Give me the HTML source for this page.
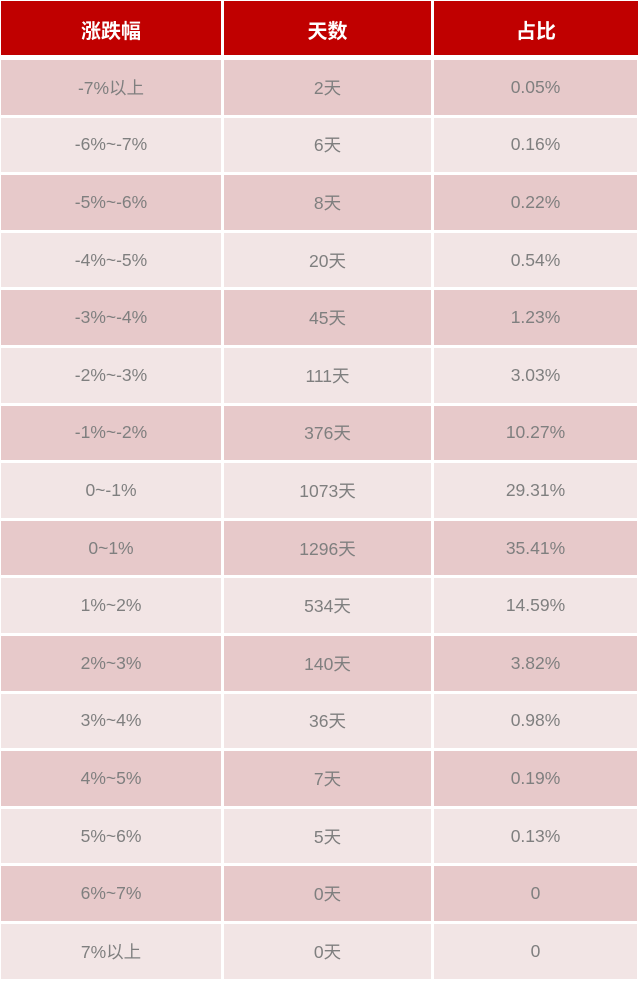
<!DOCTYPE html>
<html>
<head>
<meta charset="utf-8">
<style>
html,body{margin:0;padding:0;background:#fff;}
body{width:640px;height:982px;position:relative;overflow:hidden;font-family:"Liberation Sans","Noto Sans CJK SC",sans-serif;}
.c{position:absolute;display:flex;align-items:center;justify-content:center;box-sizing:border-box;}
.h{background:#c00000;color:#fff;font-weight:bold;font-size:20px;top:1px;height:54px;padding-top:3px;}
.d{background:#e7c9ca;}
.l{background:#f2e5e5;}
.t{color:#7f7f7f;font-size:17.5px;height:54.5px;}
.a{left:1px;width:220px;}
.b{left:224px;width:207px;}
.e{left:434px;width:203px;}
</style>
</head>
<body>
<div class="c h a">涨跌幅</div>
<div class="c h b">天数</div>
<div class="c h" style="left:434px;width:204px;">占比</div>

<div class="c t d a" style="top:60px">-7%以上</div><div class="c t d b" style="top:60px">2天</div><div class="c t d e" style="top:60px">0.05%</div>
<div class="c t l a" style="top:117.6px">-6%~-7%</div><div class="c t l b" style="top:117.6px">6天</div><div class="c t l e" style="top:117.6px">0.16%</div>
<div class="c t d a" style="top:175.2px">-5%~-6%</div><div class="c t d b" style="top:175.2px">8天</div><div class="c t d e" style="top:175.2px">0.22%</div>
<div class="c t l a" style="top:232.8px">-4%~-5%</div><div class="c t l b" style="top:232.8px">20天</div><div class="c t l e" style="top:232.8px">0.54%</div>
<div class="c t d a" style="top:290.4px">-3%~-4%</div><div class="c t d b" style="top:290.4px">45天</div><div class="c t d e" style="top:290.4px">1.23%</div>
<div class="c t l a" style="top:348px">-2%~-3%</div><div class="c t l b" style="top:348px">111天</div><div class="c t l e" style="top:348px">3.03%</div>
<div class="c t d a" style="top:405.6px">-1%~-2%</div><div class="c t d b" style="top:405.6px">376天</div><div class="c t d e" style="top:405.6px">10.27%</div>
<div class="c t l a" style="top:463.2px">0~-1%</div><div class="c t l b" style="top:463.2px">1073天</div><div class="c t l e" style="top:463.2px">29.31%</div>
<div class="c t d a" style="top:520.8px">0~1%</div><div class="c t d b" style="top:520.8px">1296天</div><div class="c t d e" style="top:520.8px">35.41%</div>
<div class="c t l a" style="top:578.4px">1%~2%</div><div class="c t l b" style="top:578.4px">534天</div><div class="c t l e" style="top:578.4px">14.59%</div>
<div class="c t d a" style="top:636px">2%~3%</div><div class="c t d b" style="top:636px">140天</div><div class="c t d e" style="top:636px">3.82%</div>
<div class="c t l a" style="top:693.6px">3%~4%</div><div class="c t l b" style="top:693.6px">36天</div><div class="c t l e" style="top:693.6px">0.98%</div>
<div class="c t d a" style="top:751.2px">4%~5%</div><div class="c t d b" style="top:751.2px">7天</div><div class="c t d e" style="top:751.2px">0.19%</div>
<div class="c t l a" style="top:808.8px">5%~6%</div><div class="c t l b" style="top:808.8px">5天</div><div class="c t l e" style="top:808.8px">0.13%</div>
<div class="c t d a" style="top:866.4px">6%~7%</div><div class="c t d b" style="top:866.4px">0天</div><div class="c t d e" style="top:866.4px">0</div>
<div class="c t l a" style="top:924px">7%以上</div><div class="c t l b" style="top:924px">0天</div><div class="c t l e" style="top:924px">0</div>
</body>
</html>
